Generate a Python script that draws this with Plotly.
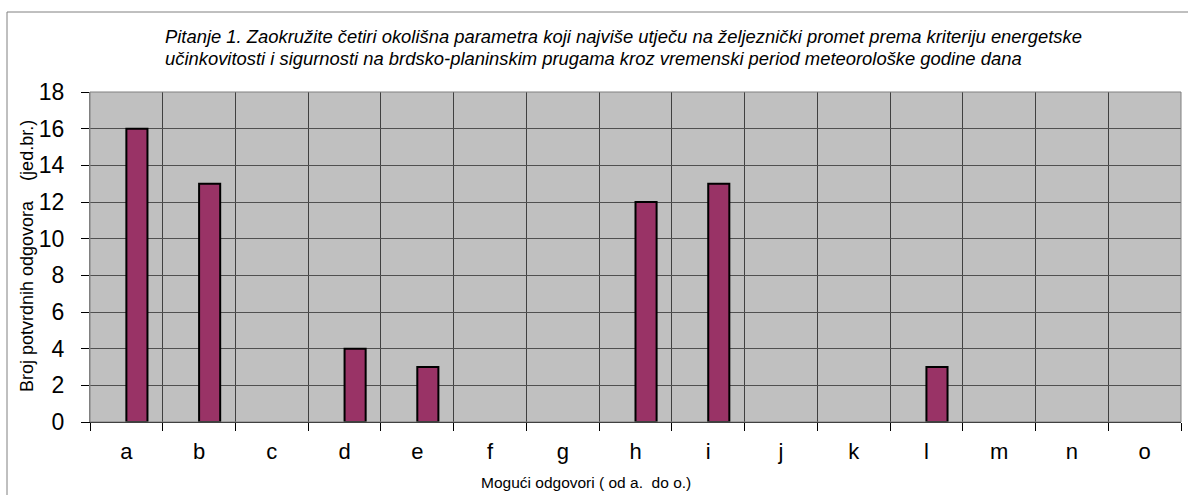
import plotly.graph_objects as go

categories = ["a", "b", "c", "d", "e", "f", "g", "h", "i", "j", "k", "l", "m", "n", "o"]
values = [16, 13, 0, 4, 3, 0, 0, 12, 13, 0, 0, 3, 0, 0, 0]
y_ticks = [0, 2, 4, 6, 8, 10, 12, 14, 16, 18]

title_line1 = "Pitanje 1. Zaokružite četiri okolišna parametra koji najviše utječu na željeznički promet prema kriteriju energetske"
title_line2 = "učinkovitosti i sigurnosti na brdsko-planinskim prugama kroz vremenski period meteorološke godine dana"
x_title = "Mogući odgovori ( od a.&nbsp;&nbsp;do o.)"
y_title = "Broj potvrdnih odgovora&nbsp;&nbsp;&nbsp;&nbsp;(jed.br.)"

W, H = 1188, 495
L, R, T, B = 90, 7, 92, 73
pw, ph = W - L - R, H - T - B


def px_x(x):
    return (x - L) / pw


def px_y(y):
    return (T + ph - y) / ph


fig = go.Figure()
fig.add_trace(go.Bar(
    x=categories, y=values, width=0.29, offset=0,
    marker=dict(color="#993366",
                line=dict(color="#000000", width=[2 if v > 0 else 0 for v in values])),
    hoverinfo="skip",
))

font = "Liberation Sans, Arial, sans-serif"
fig.update_layout(
    width=W, height=H,
    margin=dict(l=L, r=R, t=T, b=B, pad=0),
    paper_bgcolor="white", plot_bgcolor="#C0C0C0",
    showlegend=False,
    font=dict(family=font, color="#000000"),
    xaxis=dict(
        type="category", tickson="boundaries", ticks="outside", ticklen=8,
        tickcolor="#000000", tickwidth=1, ticklabelstandoff=10,
        showgrid=True, gridcolor="#404040", gridwidth=1,
        tickfont=dict(size=22, family=font),
        showline=True, linecolor="#000000", linewidth=1,
        range=[-0.5, 14.5],
    ),
    yaxis=dict(
        range=[0, 18], tickvals=y_ticks, ticks="outside", ticklen=8,
        tickcolor="#000000", ticklabelstandoff=12,
        showgrid=True, gridcolor="#505050", gridwidth=1,
        tickfont=dict(size=23, family=font),
        showline=True, linecolor="#808080", zeroline=False,
    ),
    shapes=[
        dict(type="rect", xref="paper", yref="paper", x0=0, x1=1, y0=0, y1=1,
             line=dict(color="#808080", width=1), fillcolor="rgba(0,0,0,0)"),
        dict(type="rect", xref="paper", yref="paper",
             x0=px_x(7), x1=px_x(W + 5), y0=px_y(H + 5), y1=px_y(12),
             line=dict(color="#808080", width=1), fillcolor="rgba(0,0,0,0)"),
    ],
    annotations=[
        dict(text=title_line1, xref="paper", yref="paper",
             x=px_x(163), y=px_y(36), xanchor="left", yanchor="middle",
             showarrow=False, font=dict(size=18.4, family=font, style="italic")),
        dict(text=title_line2, xref="paper", yref="paper",
             x=px_x(163), y=px_y(58), xanchor="left", yanchor="middle",
             showarrow=False, font=dict(size=18.4, family=font, style="italic")),
        dict(text=x_title, xref="paper", yref="paper",
             x=px_x(586), y=px_y(482), xanchor="center", yanchor="middle",
             showarrow=False, font=dict(size=15.5, family=font)),
        dict(text=y_title, xref="paper", yref="paper",
             x=px_x(27), y=px_y(256), xanchor="center", yanchor="middle",
             textangle=-90, showarrow=False, font=dict(size=18, family=font)),
    ],
)

fig.write_html("out.html", config={"displayModeBar": False},
               post_script="document.body.style.margin='0';document.body.style.overflow='hidden';")
